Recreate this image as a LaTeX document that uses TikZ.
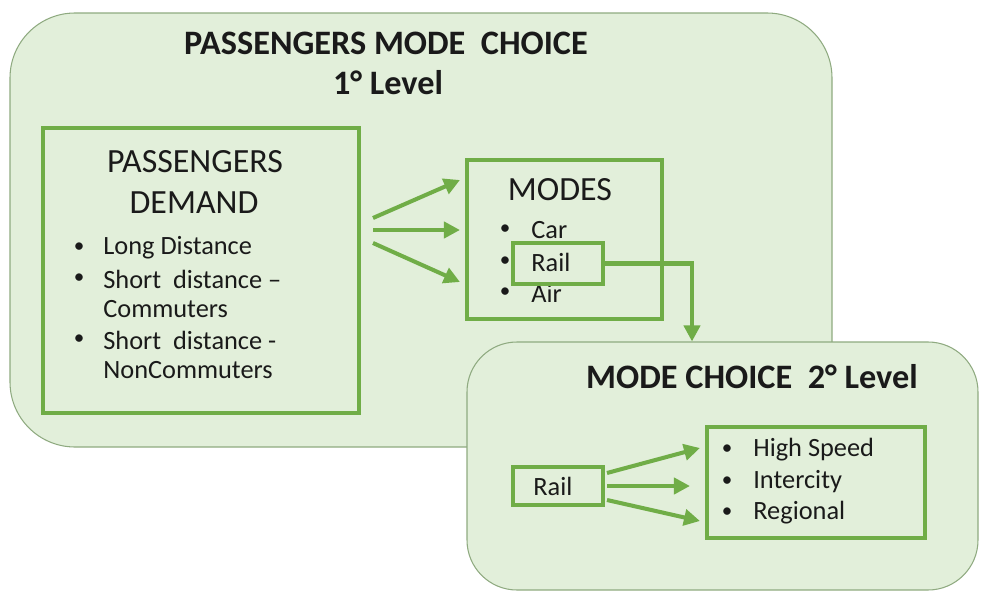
\documentclass[tikz,border=0pt]{standalone}
\usepackage{fontspec}
\setmainfont{Carlito}
\usetikzlibrary{arrows.meta,positioning,fit,calc}
\definecolor{panel}{HTML}{E2EFDA}
\definecolor{rim}{HTML}{8FAA80}
\definecolor{leaf}{HTML}{70AD47}
\definecolor{ink}{HTML}{1A1A1A}
\tikzset{
  tier/.style={draw=rim,fill=panel,line width=0.6pt,inner sep=0pt},
  boxline/.style={draw=leaf,line width=2.3pt,inner sep=0pt},
  headtxt/.style={font=\fontsize{19.5}{24}\selectfont\bfseries,text=ink,inner sep=0pt},
  boxtitle/.style={font=\fontsize{19.3}{24}\selectfont,text=ink,inner sep=0pt},
  itemtxt/.style={font=\fontsize{15}{18}\selectfont,text=ink,inner sep=0pt,anchor=west},
  bul/.style={font=\fontsize{12}{14}\selectfont,text=ink,inner sep=0pt},
  flow/.style={-{Triangle[length=3.2mm,width=3.2mm]},line width=2.3pt,draw=leaf}
}

\begin{document}
\begin{tikzpicture}[x=0.02cm,y=-0.02cm]
    \useasboundingbox (0,0) rectangle (981,595);
    % first level
    \node[tier,rounded corners=1.3cm,fit={(10,13) (832,447)}] (lvl1) {};
    \node[headtxt] (title1) at (386,43) {PASSENGERS MODE\ \ CHOICE};
    \node[headtxt] (sub1) at (388,83) {1° Level};

    \node[boxline,fit={(43,128) (359,413)}] (demand) {};
    \node[boxtitle] (dtitle) at (195,162) {PASSENGERS};
    \node[boxtitle] (dtitle2) at (194,203) {DEMAND};
    \node[bul] (b1) at (79,248) {\textbullet};
    \node[itemtxt] (d1) at (103,248) {Long Distance};
    \node[bul] (b2) at (79,279) {\textbullet};
    \node[itemtxt] (d2) at (103,279) {Short\ \ distance –};
    \node[itemtxt] (d3) at (103,309) {Commuters};
    \node[bul] (b3) at (79,340) {\textbullet};
    \node[itemtxt] (d4) at (103,340) {Short\ \ distance -};
    \node[itemtxt] (d5) at (103,370) {NonCommuters};

    \node[boxline,fit={(467,160) (662,319)}] (modes) {};
    \node[boxtitle] (mtitle) at (560,190) {MODES};
    \node[bul] (m1) at (505,230) {\textbullet};
    \node[itemtxt] (car) at (531,230) {Car};
    \node[bul] (m2) at (505,262) {\textbullet};
    \node[bul] (m3) at (505,293) {\textbullet};
    \node[itemtxt] (air) at (531,293) {Air};

    \coordinate (s1) at (373,218);
    \coordinate (s2) at (373,230);
    \coordinate (s3) at (373,243);
    \draw[flow] (s1) -- ($(modes.west |- 0,180)+(-5,0)$);
    \draw[flow] (s2) -- ($(modes.west |- 0,230)+(-5,0)$);
    \draw[flow] (s3) -- ($(modes.west |- 0,282)+(-5,0)$);

    % second level
    \node[tier,rounded corners=1.0cm,fit={(467,342) (978,590)}] (lvl2) {};
    \node[headtxt] (title2) at (752,377) {MODE CHOICE\ \ 2° Level};

    \node[boxline,fill=panel,fit={(513,243) (603,284)}] (rail) {};
    \node[itemtxt] (railtxt) at (531,262) {Rail};
    \draw[flow] (rail.east) -| (lvl2.north -| 692,0);

    \node[boxline,fit={(513,467) (603,505)}] (rail2) {};
    \node[itemtxt] (rail2txt) at (533,486) {Rail};
    \node[boxline,fit={(707,427) (925,538)}] (kinds) {};
    \node[bul] (k1) at (727,450) {\textbullet};
    \node[itemtxt] (hs) at (753,450) {High Speed};
    \node[bul] (k2) at (727,482) {\textbullet};
    \node[itemtxt] (ic) at (753,482) {Intercity};
    \node[bul] (k3) at (727,513) {\textbullet};
    \node[itemtxt] (rg) at (753,513) {Regional};

    \coordinate (r1) at (607,473);
    \coordinate (r2) at (607,486);
    \coordinate (r3) at (607,500);
    \draw[flow] (r1) -- ($(kinds.west |- 0,448)+(-5,0)$);
    \draw[flow] (r2) -- ($(kinds.west |- 0,486)+(-15,0)$);
    \draw[flow] (r3) -- ($(kinds.west |- 0,521)+(-5,0)$);
\end{tikzpicture}
\end{document}
